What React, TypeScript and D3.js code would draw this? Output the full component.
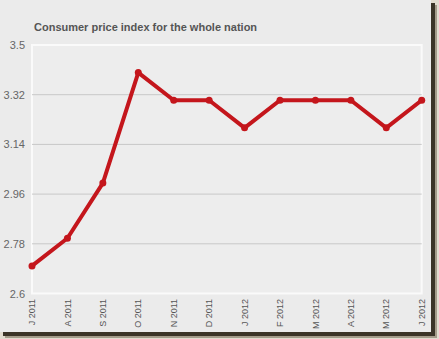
import React from "react";
import * as d3 from "d3";

const months = ["J 2011", "A 2011", "S 2011", "O 2011", "N 2011", "D 2011", "J 2012", "F 2012", "M 2012", "A 2012", "M 2012", "J 2012"];
const cpiValues = [2.7, 2.8, 3.0, 3.4, 3.3, 3.3, 3.2, 3.3, 3.3, 3.3, 3.2, 3.3];
const yTicks = [2.6, 2.78, 2.96, 3.14, 3.32, 3.5];
const title = "Consumer price index for the whole nation";

const W = 439, H = 339;
const left = 32, right = 421.7, top = 45, bottom = 293.5;

export default function App() {
  const x = d3.scalePoint<number>().domain(d3.range(months.length)).range([left, right]);
  const y = d3.scaleLinear().domain([2.6, 3.5]).range([bottom, top]);
  const line = d3.line<number>().x((_, i) => x(i)!).y((d) => y(d));
  const font = "'Liberation Sans', Arial, sans-serif";
  return (
    <svg width={W} height={H} style={{ position: "absolute", left: 0, top: 0 }}>
      <rect x={0} y={0} width={W} height={H} fill="#e2dccf" />
      <rect x={0} y={0} width={431} height={332} fill="#ebebeb" />
      <rect x={431} y={3} width={4} height={333} fill="#3b3427" />
      <rect x={3} y={332} width={432} height={4} fill="#3b3427" />
      <rect x={435} y={5} width={2} height={333} fill="#a49c8a" />
      <rect x={5} y={336} width={432} height={2} fill="#a49c8a" />
      <text x={34} y={31} fontFamily={font} fontWeight="bold" fontSize={11} fill="#555">{title}</text>
      <rect x={left} y={top} width={right - left} height={bottom - top} fill="#ededed" stroke="#fafafa" strokeWidth={2} />
      {yTicks.map((t) => (
        <g key={t}>
          {t > 2.6 && t < 3.5 && (
            <line x1={left} x2={right} y1={y(t)} y2={y(t)} stroke="#c8c8c8" strokeWidth={1} />
          )}
          <text x={25} y={y(t) + 4} textAnchor="end" fontFamily={font} fontSize={11} fill="#666">{t}</text>
        </g>
      ))}
      {months.map((m, i) => (
        <text key={i} transform={`translate(${x(i)! + 3.2},${299}) rotate(-90)`} textAnchor="end" fontFamily={font} fontSize={9} fill="#555">{m}</text>
      ))}
      <path d={line(cpiValues)!} fill="none" stroke="#c4161c" strokeWidth={4} strokeLinejoin="round" strokeLinecap="round" />
      {cpiValues.map((v, i) => (
        <circle key={i} cx={x(i)!} cy={y(v)} r={3.5} fill="#c4161c" />
      ))}
    </svg>
  );
}
